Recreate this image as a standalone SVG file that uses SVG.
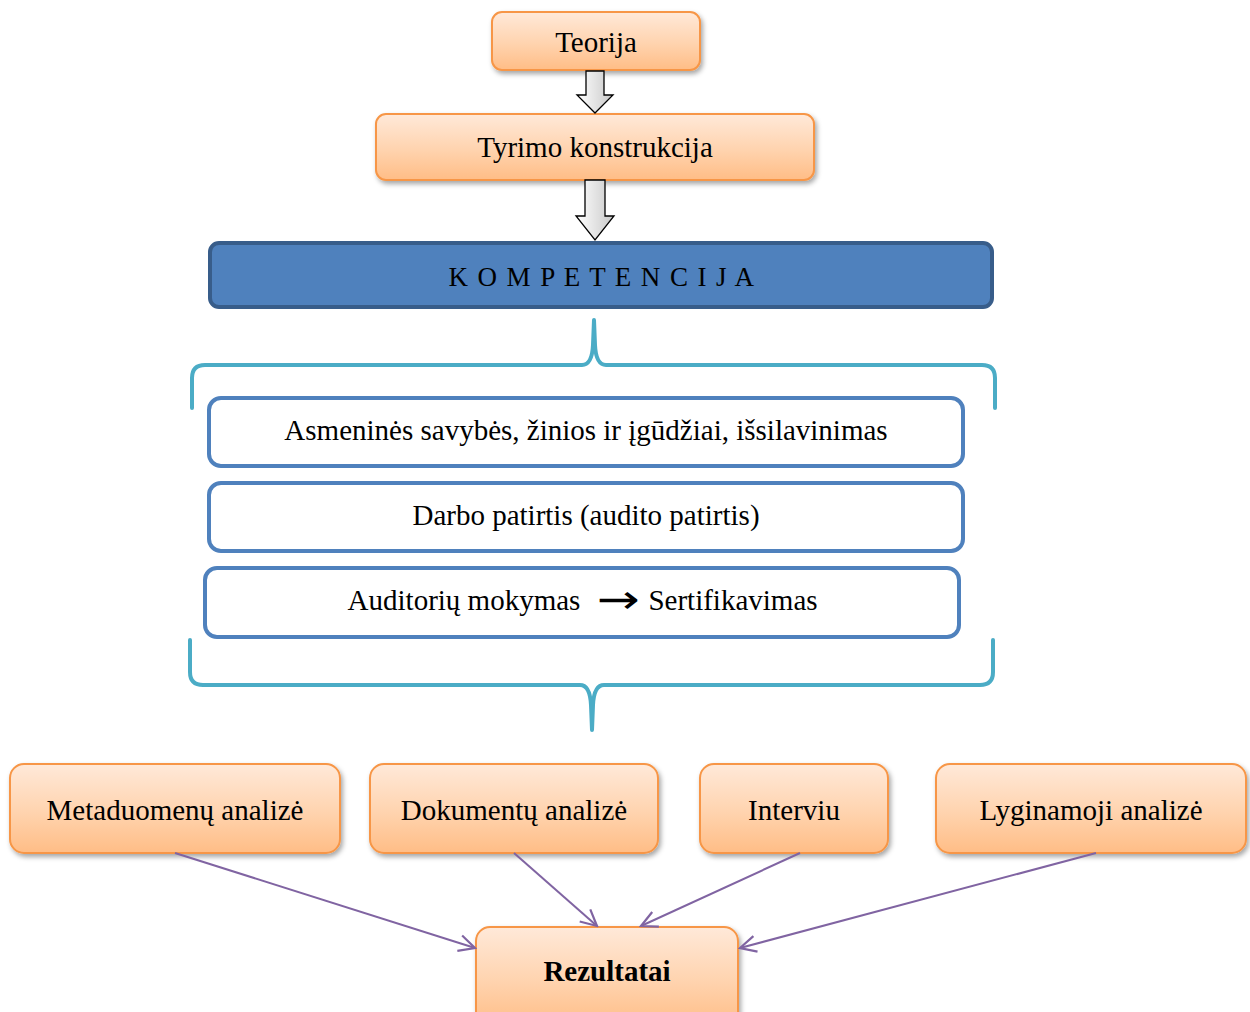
<svg xmlns="http://www.w3.org/2000/svg" width="1250" height="1012" viewBox="0 0 1250 1012">
  <defs>
    <linearGradient id="orangeFill" x1="0" y1="0" x2="0" y2="1">
      <stop offset="0" stop-color="#FFE9D9"/>
      <stop offset="0.55" stop-color="#FFD3AE"/>
      <stop offset="1" stop-color="#FFBD86"/>
    </linearGradient>
    <linearGradient id="greyFill" x1="0" y1="0" x2="1" y2="0">
      <stop offset="0" stop-color="#FFFFFF"/>
      <stop offset="1" stop-color="#C8C8C8"/>
    </linearGradient>
    <filter id="shadow" x="-10%" y="-20%" width="125%" height="150%">
      <feDropShadow dx="2" dy="3" stdDeviation="2.5" flood-color="#000" flood-opacity="0.35"/>
    </filter>
    <marker id="openHead" viewBox="0 0 20 20" refX="18" refY="10" markerWidth="20" markerHeight="20" markerUnits="userSpaceOnUse" orient="auto">
      <path d="M2,2 L18,10 L2,18" fill="none" stroke="#8064A2" stroke-width="2.2"/>
    </marker>
    <style>
      .orange { fill: url(#orangeFill); stroke: #F79646; stroke-width: 2; filter: url(#shadow); }
      .white { fill: #FFFFFF; stroke: #4F81BD; stroke-width: 4; }
      .brace { fill: none; stroke: #4BACC6; stroke-width: 4; stroke-linejoin: round; stroke-linecap: round; }
      .blockArrow { fill: url(#greyFill); stroke: #000; stroke-width: 1.3; stroke-linejoin: miter; }
      .link { fill: none; stroke: #8064A2; stroke-width: 2; marker-end: url(#openHead); }
      .label { font-family: "Liberation Serif", "Times New Roman", serif; font-size: 29px; fill: #000; text-anchor: middle; }
    </style>
  </defs>

  <rect width="1250" height="1012" fill="#FFFFFF"/>

  <!-- top chain -->
  <g id="teorija">
    <rect class="orange" x="492" y="12" width="208" height="58" rx="10"/>
    <text class="label" x="596" y="52">Teorija</text>
  </g>
  <g id="tyrimo-konstrukcija">
    <rect class="orange" x="376" y="114" width="438" height="66" rx="10"/>
    <text class="label" x="595" y="157">Tyrimo konstrukcija</text>
  </g>
  <g id="kompetencija">
    <rect x="210" y="243" width="782" height="64" rx="9" fill="#4F81BD" stroke="#385D8A" stroke-width="4"/>
    <text x="602" y="286" font-family="'Liberation Serif', 'Times New Roman', serif" font-size="27" fill="#000" text-anchor="middle" letter-spacing="1.4">K O M P E T E N C I J A</text>
  </g>

  <!-- braces -->
  <g id="braces">
    <path class="brace" d="M192,408 L192,378 Q192,365 205,365 L582,365 Q592,365 593,345 L594,320 L595,345 Q596,365 606,365 L982,365 Q995,365 995,378 L995,408"/>
    <path class="brace" d="M190,640 L190,672 Q190,685 203,685 L580,685 Q590,685 591,705 L592,730 L593,705 Q594,685 604,685 L980,685 Q993,685 993,672 L993,640"/>
  </g>

  <!-- competence parts -->
  <g id="asmenines-savybes">
    <rect class="white" x="209" y="398" width="754" height="68" rx="12"/>
    <text class="label" x="586" y="440">Asmeninės savybės, žinios ir įgūdžiai, išsilavinimas</text>
  </g>
  <g id="darbo-patirtis">
    <rect class="white" x="209" y="483" width="754" height="68" rx="12"/>
    <text class="label" x="586" y="525">Darbo patirtis (audito patirtis)</text>
  </g>
  <g id="auditoriu-mokymas">
    <rect class="white" x="205" y="568" width="754" height="69" rx="12"/>
    <text class="label" x="464" y="610">Auditorių mokymas</text>
    <text x="597" y="613" font-family="'DejaVu Sans', sans-serif" font-size="40" fill="#000" textLength="43" lengthAdjust="spacingAndGlyphs">→</text>
    <text class="label" x="733" y="610">Sertifikavimas</text>
  </g>

  <!-- methods -->
  <g id="metaduomenu-analize">
    <rect class="orange" x="10" y="764" width="330" height="89" rx="14"/>
    <text class="label" x="175" y="820">Metaduomenų analizė</text>
  </g>
  <g id="dokumentu-analize">
    <rect class="orange" x="370" y="764" width="288" height="89" rx="14"/>
    <text class="label" x="514" y="820">Dokumentų analizė</text>
  </g>
  <g id="interviu">
    <rect class="orange" x="700" y="764" width="188" height="89" rx="14"/>
    <text class="label" x="794" y="820">Interviu</text>
  </g>
  <g id="lyginamoji-analize">
    <rect class="orange" x="936" y="764" width="310" height="89" rx="14"/>
    <text class="label" x="1091" y="820">Lyginamoji analizė</text>
  </g>
  <g id="rezultatai">
    <rect class="orange" x="476" y="927" width="262" height="100" rx="14"/>
    <text class="label" x="607" y="981" font-weight="bold">Rezultatai</text>
  </g>

  <!-- connectors -->
  <g id="connectors">
    <path class="blockArrow" d="M586,71 L604,71 L604,95 L613,95 L595,113 L577,95 L586,95 Z"/>
    <path class="blockArrow" d="M585,180 L605,180 L605,216 L614,216 L595,240 L576,216 L585,216 Z"/>
    <path class="link" d="M175,853 L475,948"/>
    <path class="link" d="M514,853 L597,926"/>
    <path class="link" d="M800,853 L641,926"/>
    <path class="link" d="M1096,853 L740,948"/>
  </g>
</svg>
